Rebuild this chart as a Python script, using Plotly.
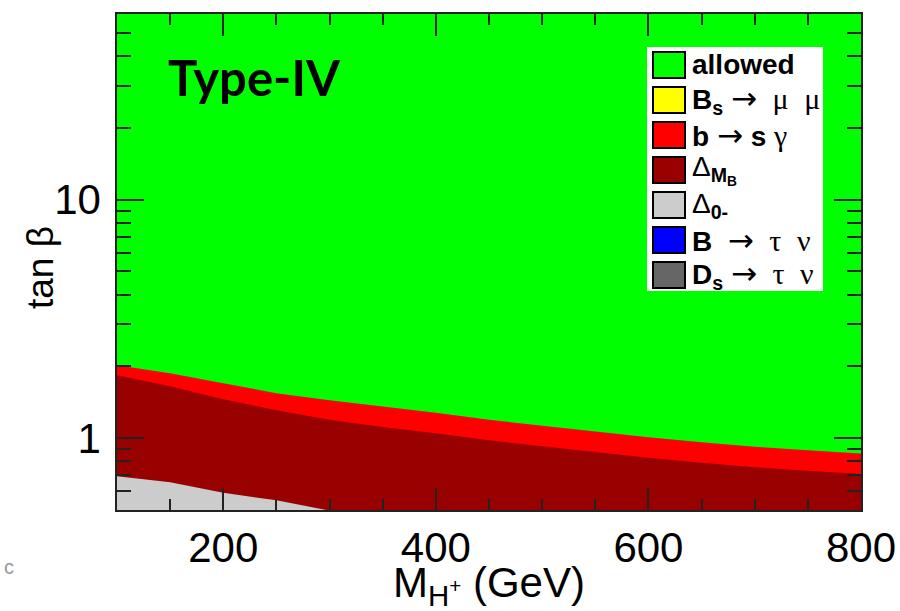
import math
import plotly.graph_objects as go

# Charged-Higgs mass grid (GeV) and upper edges of the excluded regions in tan(beta)
mass = [100, 150, 200, 250, 300, 350, 400, 450, 500, 550, 600, 650, 700, 750, 800]
bsg_upper = [2.02, 1.87, 1.70, 1.544, 1.443, 1.358, 1.278, 1.194, 1.128, 1.065,
             1.010, 0.962, 0.921, 0.891, 0.863]
dmb_upper = [1.837, 1.652, 1.457, 1.310, 1.196, 1.114, 1.048, 0.980, 0.926, 0.874,
             0.828, 0.789, 0.756, 0.731, 0.708]
d0_mass = [100, 150, 200, 250, 297]
d0_upper = [0.693, 0.654, 0.590, 0.549, 0.50]

# Axis ranges and ticks
X_RANGE = [100, 800]
Y_MIN, Y_MAX = 0.5, 60
x_major = [200, 400, 600, 800]
x_minor = [150, 250, 300, 350, 450, 500, 550, 650, 700, 750]
y_major = [1, 10]
y_minor = [0.5, 0.6, 0.7, 0.8, 0.9, 2, 3, 4, 5, 6, 7, 8, 9, 20, 30, 40, 50]

SANS = "Liberation Sans, Arial, sans-serif"
ARROW = '<span style="font-family:DejaVu Sans;font-size:31px">\u2192</span>'


def greek(ch):
    return f'<span style="font-family:Liberation Serif;font-size:30px">{ch}</span>'


# Legend entries: label, fill colour
legend_labels = [
    "<b>allowed</b>",
    f"<b>B<sub>s</sub></b> {ARROW}  {greek(chr(0x3bc))}  {greek(chr(0x3bc))}",
    f"<b>b</b> {ARROW} <b>s</b> {greek(chr(0x3b3))}",
    "\u0394<sub><b>M<sub>B</sub></b></sub>",
    "\u0394<sub><b>0-</b></sub>",
    f"<b>B</b>  {ARROW}  {greek(chr(0x3c4))}  {greek(chr(0x3bd))}",
    f"<b>D<sub>s</sub></b> {ARROW}  {greek(chr(0x3c4))}  {greek(chr(0x3bd))}",
]
legend_colors = ["#00ff00", "#ffff00", "#ff0000", "#990000", "#cccccc", "#0000ff", "#666666"]

GREEN, RED, DARKRED, LIGHTGREY = "#00ff00", "#ff0000", "#990000", "#cccccc"

W, H = 900, 611
L, R, T, B = 117, 861, 14, 510  # plot frame in pixels


def px(x):
    return (x - L) / (R - L)


def py(y):
    return (B - y) / (B - T)


fig = go.Figure()


def band(xs, upper, color):
    fig.add_trace(go.Scatter(
        x=list(xs) + list(xs[::-1]),
        y=list(upper) + [Y_MIN] * len(xs),
        fill="toself", fillcolor=color, mode="lines",
        line=dict(width=0, color=color), hoverinfo="skip", showlegend=False,
    ))


band(mass, bsg_upper, RED)
band(mass, dmb_upper, DARKRED)
band(d0_mass, d0_upper, LIGHTGREY)

TICK_FONT = dict(family=SANS, size=42, color="black")
AX_COLOR = "#222222"

fig.update_xaxes(
    range=X_RANGE, tickmode="array", tickvals=x_major, automargin=False,
    ticks="inside", ticklen=22, tickwidth=2, tickcolor=AX_COLOR,
    minor=dict(tickmode="array", tickvals=x_minor, ticks="inside", ticklen=11,
               tickwidth=2, tickcolor=AX_COLOR),
    mirror="allticks", showline=True, linecolor=AX_COLOR, linewidth=1.5,
    showgrid=False, zeroline=False, tickfont=TICK_FONT,
)
fig.update_yaxes(
    type="log", range=[math.log10(Y_MIN), math.log10(Y_MAX)], automargin=False,
    tickmode="array", tickvals=y_major, ticktext=[str(v) for v in y_major],
    ticks="inside", ticklen=27, tickwidth=2, tickcolor=AX_COLOR,
    minor=dict(tickmode="array", tickvals=y_minor, ticks="inside", ticklen=14,
               tickwidth=2, tickcolor=AX_COLOR),
    mirror="allticks", showline=True, linecolor=AX_COLOR, linewidth=1.5,
    showgrid=False, zeroline=False, tickfont=TICK_FONT, ticklabelstandoff=6,
)

shapes = []
annotations = []

# Legend panel
shapes.append(dict(type="rect", xref="paper", yref="paper",
                   x0=px(647), x1=px(823), y0=py(291), y1=py(47),
                   fillcolor="white", line=dict(width=0), layer="above"))
for i, (lab, col) in enumerate(zip(legend_labels, legend_colors)):
    top = 52 + 35 * i
    shapes.append(dict(type="rect", xref="paper", yref="paper",
                       x0=px(653), x1=px(685), y0=py(top + 26), y1=py(top),
                       fillcolor=col, line=dict(width=2, color="black"), layer="above"))
    annotations.append(dict(xref="paper", yref="paper", x=px(690), y=py(top + 13),
                            xanchor="left", yanchor="middle", showarrow=False, text=lab,
                            font=dict(family=SANS, size=28, color="black")))

# Model label
annotations.append(dict(xref="paper", yref="paper", x=px(166), y=py(77),
                        xanchor="left", yanchor="middle", showarrow=False,
                        text="<b>Type-IV</b>",
                        font=dict(family="Lato, Open Sans, sans-serif", size=49, color="black")))

# Axis titles
annotations.append(dict(xref="paper", yref="paper", x=px(489), y=py(585),
                        xanchor="center", yanchor="middle", showarrow=False,
                        text="M<sub>H<sup>+</sup></sub> (GeV)",
                        font=dict(family=SANS, size=42, color="black")))
annotations.append(dict(xref="paper", yref="paper", x=px(40), y=py(268),
                        xanchor="center", yanchor="middle", showarrow=False, textangle=-90,
                        text="tan \u03b2",
                        font=dict(family=SANS, size=37, color="black")))
annotations.append(dict(xref="paper", yref="paper", x=px(9), y=py(567),
                        xanchor="center", yanchor="middle", showarrow=False, text="c",
                        font=dict(family=SANS, size=20, color="#999999")))

fig.update_layout(
    width=W, height=H,
    margin=dict(l=L, r=W - R, t=T, b=H - B),
    paper_bgcolor="white", plot_bgcolor=GREEN,
    showlegend=False, shapes=shapes, annotations=annotations,
)

fig.write_html("out.html")
